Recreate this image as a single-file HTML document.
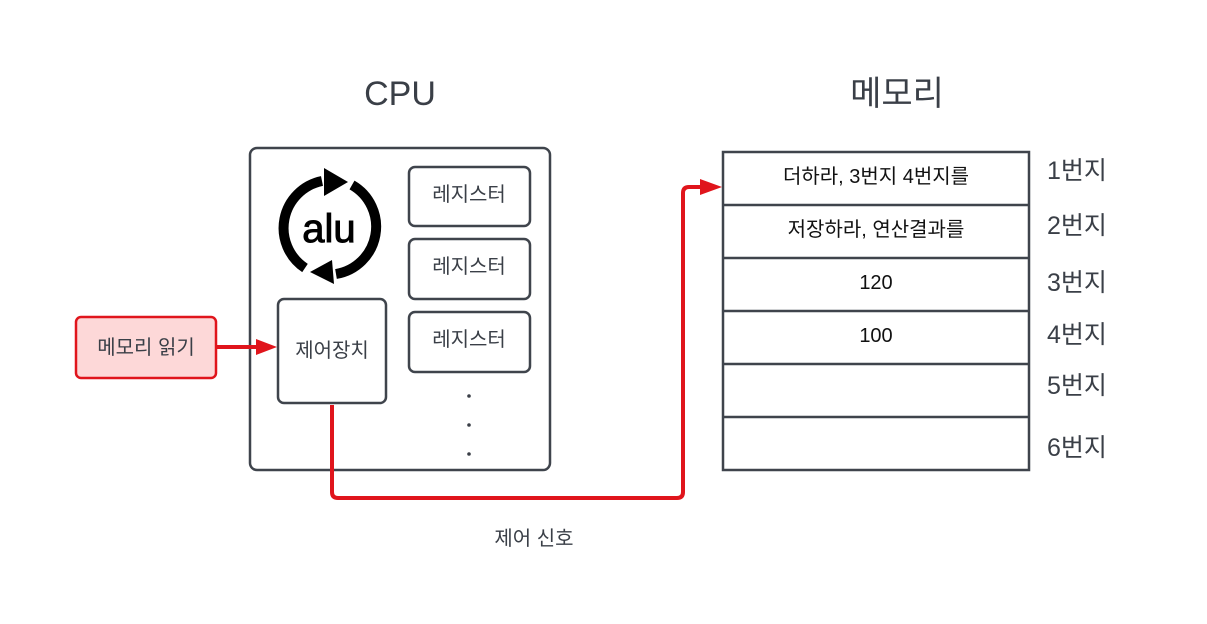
<!DOCTYPE html>
<html><head><meta charset="utf-8"><style>
body{margin:0;background:#fff;}
svg text{font-family:"Liberation Sans","Noto Sans CJK KR",sans-serif;}
</style></head><body>
<svg width="1207" height="619" viewBox="0 0 1207 619" xmlns="http://www.w3.org/2000/svg">
<rect width="1207" height="619" fill="#fff"/>
<text x="400" y="105" font-size="34" fill="#3a3f47" text-anchor="middle">CPU</text>
<text x="897" y="105" font-size="34" fill="#3a3f47" text-anchor="middle">메모리</text>
<rect x="250" y="148" width="300" height="322" rx="7" fill="#fff" stroke="#3f444c" stroke-width="2.5"/>
<g fill="#fff" stroke="#3f444c" stroke-width="2.5">
<rect x="409" y="167" width="121" height="59" rx="6"/>
<rect x="409" y="239" width="121" height="60" rx="6"/>
<rect x="409" y="312" width="121" height="60" rx="6"/>
<rect x="278" y="299" width="108" height="104" rx="6"/>
</g>
<g font-size="20" fill="#3a3f47" text-anchor="middle">
<text x="469" y="201">레지스터</text>
<text x="469" y="273">레지스터</text>
<text x="469" y="346">레지스터</text>
<text x="332" y="357">제어장치</text>
</g>
<g fill="#3a3f47"><circle cx="469" cy="396" r="1.8"/><circle cx="469" cy="425" r="1.8"/><circle cx="469" cy="454" r="1.8"/></g>
<!-- alu icon -->
<path d="M305 268 A48 48 0 0 1 322 181" fill="none" stroke="#000" stroke-width="10"/>
<polygon points="324,168 348,182 324,196" fill="#000"/>
<path d="M352 185 A48 48 0 0 1 336 274" fill="none" stroke="#000" stroke-width="10"/>
<polygon points="334,284 310,272 332,260" fill="#000"/>
<text x="329" y="242" font-size="40" fill="#000" text-anchor="middle" stroke="#000" stroke-width="1">alu</text>
<!-- red box -->
<rect x="76" y="317" width="140" height="61" rx="5" fill="#fdd8d8" stroke="#e0151c" stroke-width="2.5"/>
<text x="146" y="354" font-size="20" fill="#3a3f47" text-anchor="middle">메모리 읽기</text>
<line x1="217" y1="347" x2="258" y2="347" stroke="#e0151c" stroke-width="4"/>
<polygon points="256,339 277,347 256,355" fill="#e0151c"/>
<path d="M332 405 V492 Q332 498 338 498 H677 Q683 498 683 492 V193 Q683 187 689 187 H702" fill="none" stroke="#e0151c" stroke-width="4"/>
<polygon points="700,179 722,187 700,195" fill="#e0151c"/>
<text x="534" y="545" font-size="20" fill="#3a3f47" text-anchor="middle">제어 신호</text>
<!-- memory -->
<g fill="#fff" stroke="#3f444c" stroke-width="2.5">
<rect x="723" y="152" width="306" height="318"/>
<line x1="723" y1="205" x2="1029" y2="205"/>
<line x1="723" y1="258" x2="1029" y2="258"/>
<line x1="723" y1="311" x2="1029" y2="311"/>
<line x1="723" y1="364" x2="1029" y2="364"/>
<line x1="723" y1="417" x2="1029" y2="417"/>
</g>
<g font-size="20" fill="#111" text-anchor="middle">
<text x="876" y="183">더하라, 3번지 4번지를</text>
<text x="876" y="236">저장하라, 연산결과를</text>
<text x="876" y="289">120</text>
<text x="876" y="342">100</text>
</g>
<g font-size="25" fill="#3a3f47">
<text x="1047" y="179">1번지</text>
<text x="1047" y="234">2번지</text>
<text x="1047" y="291">3번지</text>
<text x="1047" y="343">4번지</text>
<text x="1047" y="394">5번지</text>
<text x="1047" y="456">6번지</text>
</g>
</svg>
</body></html>
